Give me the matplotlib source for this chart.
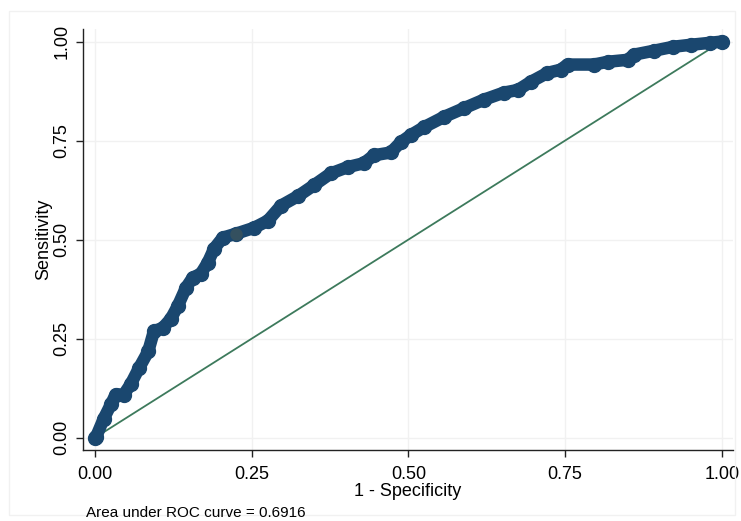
import matplotlib
matplotlib.use("Agg")
import matplotlib.pyplot as plt
from matplotlib.patches import Rectangle

# ROC curve points (1 - specificity, sensitivity)
fpr = [0.0, 0.002, 0.014, 0.026, 0.033, 0.046, 0.057, 0.070, 0.085, 0.094,
       0.108, 0.121, 0.132, 0.145, 0.156, 0.169, 0.180, 0.190, 0.204, 0.225,
       0.254, 0.276, 0.297, 0.324, 0.349, 0.376, 0.403, 0.429, 0.445, 0.472,
       0.488, 0.504, 0.525, 0.557, 0.589, 0.620, 0.652, 0.675, 0.695, 0.722,
       0.743, 0.754, 0.796, 0.818, 0.850, 0.860, 0.892, 0.923, 0.951, 0.982, 1.0]
tpr = [0.0, 0.003, 0.048, 0.086, 0.109, 0.109, 0.135, 0.175, 0.218, 0.269,
       0.277, 0.300, 0.332, 0.378, 0.404, 0.414, 0.442, 0.477, 0.505, 0.515,
       0.530, 0.548, 0.586, 0.610, 0.637, 0.667, 0.683, 0.693, 0.713, 0.720,
       0.746, 0.764, 0.784, 0.810, 0.832, 0.853, 0.871, 0.878, 0.898, 0.921,
       0.929, 0.942, 0.942, 0.949, 0.954, 0.967, 0.977, 0.987, 0.992, 0.997, 1.0]
ref_x = [0.0, 1.0]
ref_y = [0.0, 1.0]
ticks = [0.0, 0.25, 0.5, 0.75, 1.0]
tick_labels = ["0.00", "0.25", "0.50", "0.75", "1.00"]
highlight = (0.225, 0.515)
auc_text = "Area under ROC curve = 0.6916"

plt.rcParams['font.family'] = ['Liberation Sans', 'DejaVu Sans']

fig = plt.figure(figsize=(7.41, 5.21), dpi=100)
fig.patch.set_facecolor("white")
fig.patches.append(Rectangle((9/741, 6/521), 726/741, 504/521, transform=fig.transFigure,
                             fill=False, edgecolor="#f1f1f1", lw=1.0))

ax = fig.add_axes([82.7/741, 1 - 449.7/521, (733.3 - 82.7)/741, (449.7 - 29.3)/521])
ax.set_xlim(-0.0196, 1.0185)
ax.set_ylim(-0.0303, 1.031)

for t in ticks:
    ax.axhline(t, color="#f1f1f1", lw=1.0, zorder=0)
    ax.axvline(t, color="#f1f1f1", lw=1.0, zorder=0)

ax.plot(ref_x, ref_y, color="#3d7a5c", lw=1.3, zorder=2)
ax.plot(fpr, tpr, color="#1a476f", lw=9, solid_capstyle="round",
        solid_joinstyle="round", marker="o", ms=10, zorder=3)
ax.plot([highlight[0]], [highlight[1]], marker="o", ms=9, color="#34505f",
        mec="none", zorder=4)

for s in ["top", "right"]:
    ax.spines[s].set_visible(False)
for s in ["left", "bottom"]:
    ax.spines[s].set_color("#222222")
    ax.spines[s].set_linewidth(1.0)

ax.set_xticks(ticks)
ax.set_xticklabels(tick_labels, fontsize=13)
ax.set_yticks(ticks)
ax.set_yticklabels(tick_labels, fontsize=13, rotation=90, va="center")
ax.tick_params(axis="both", length=5, width=1.0, color="#222222")
ax.tick_params(axis="x", pad=6.5)
ax.tick_params(axis="y", pad=4)

ax.set_xlabel("1 - Specificity", fontsize=13, labelpad=0.5)
ax.set_ylabel("Sensitivity", fontsize=13, labelpad=0.5)

fig.text(86/741, 1 - 512.7/521, auc_text, fontsize=11, ha="left", va="center")

fig.savefig("out.png", dpi=100)
